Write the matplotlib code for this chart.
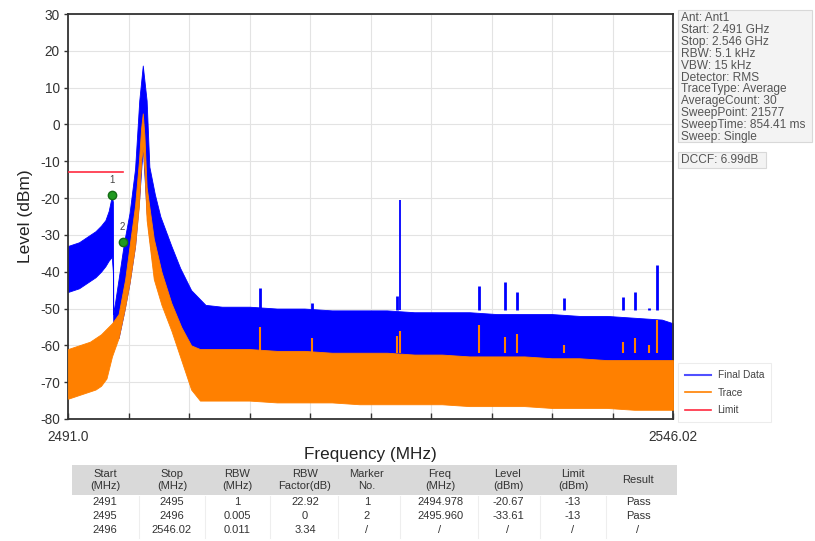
import matplotlib
matplotlib.use("Agg")
import matplotlib.pyplot as plt
from matplotlib.patches import Rectangle
from matplotlib.lines import Line2D

plt.rcParams['font.family'] = ['Liberation Sans', 'DejaVu Sans']

# ---------------- data ----------------
x_start, x_stop = 2491.0, 2546.02
y_ticks = [30, 20, 10, 0, -10, -20, -30, -40, -50, -60, -70, -80]

blue_freq = [2491.0, 2491.5, 2492.0, 2492.5, 2493.0, 2493.5, 2494.0, 2494.4, 2494.7, 2494.98,
             2495.08, 2495.12, 2495.6, 2496.1, 2496.6, 2497.1, 2497.48, 2497.8, 2498.15, 2498.4,
             2498.9, 2499.4, 2500.4, 2501.2, 2502.2, 2503.5, 2505.0, 2507.5, 2510.0, 2512.5,
             2515.0, 2517.5, 2520.0, 2522.5, 2525.0, 2527.5, 2530.0, 2532.5, 2535.0, 2537.5,
             2540.0, 2542.5, 2545.0, 2546.02]
blue_upper = [-33, -32.5, -32, -31, -30, -29, -27.5, -26, -23.5, -19.5,
              -21, -51.5, -42, -32, -24, -12, 6.5, 16, 6.5, -11.5,
              -19, -25, -33, -39, -45, -49, -49.5, -49.5, -50, -50,
              -50.5, -50.5, -50.5, -51, -51, -51, -51.5, -51.5, -51.5, -52,
              -52, -52.5, -53, -54]
blue_lower = [-45.5, -45, -44.5, -43.5, -42.5, -41.5, -40, -38.5, -37, -36,
              -40, -56, -58, -51, -43, -33, -20, -6, -24, -31,
              -42, -47, -55, -60, -63, -64, -64, -64, -64.5, -64.5,
              -65, -65, -65, -65.5, -65.5, -66, -66, -66, -66.5, -66.5,
              -67, -67, -67, -67]

orange_freq = [2491.0, 2491.5, 2492.0, 2492.5, 2493.0, 2493.5, 2494.0, 2494.5, 2495.0, 2495.6,
               2496.2, 2496.6, 2497.1, 2497.45, 2497.65, 2497.8, 2497.95, 2498.15, 2498.8, 2499.5,
               2500.4, 2501.3, 2502.2, 2503.0, 2505.0, 2507.5, 2510.0, 2512.5, 2515.0, 2517.5,
               2520.0, 2522.5, 2525.0, 2527.5, 2530.0, 2532.5, 2535.0, 2537.5, 2540.0, 2542.5,
               2545.0, 2546.02]
orange_upper = [-61, -60.5, -60, -59.5, -59, -58, -57, -55.5, -54, -51.5,
                -42, -33, -22, -10, -1, 3, -3, -17, -31, -40,
                -48.5, -55, -60, -61, -61, -61, -61.5, -61.5, -62, -62,
                -62, -62.5, -62.5, -63, -63, -63, -63.5, -63.5, -64, -64,
                -64, -64]
orange_lower = [-74.5, -74, -73.5, -73, -72.5, -72, -71, -69, -63, -58,
                -49.5, -43, -33, -22, -10, -6, -12, -26, -42, -49,
                -56, -64, -72, -75, -75, -75, -75.5, -75.5, -75.5, -76,
                -76, -76, -76, -76.5, -76.5, -76.5, -77, -77, -77, -77.5,
                -77.5, -77.5]

spike_freq = [2508.45, 2513.15, 2520.9, 2521.2, 2528.4, 2530.7, 2531.85, 2536.1, 2541.5, 2542.6, 2543.8, 2544.6]
spike_blue = [-44.5, -48.5, -46.5, -20.5, -44, -42.7, -45.4, -47.2, -46.8, -45.4, -49.9, -38.2]
spike_orange = [-55, -58, -57.5, -56, -54.5, -57.6, -57, -60, -59, -58, -60, -53]

limit_freq = [2491.0, 2496.0]
limit_level = [-13, -13]

marker_freq = [2494.978, 2495.960]
marker_level = [-19.2, -31.8]
marker_names = ["1", "2"]

info_lines = ["Ant: Ant1", "Start: 2.491 GHz", "Stop: 2.546 GHz", "RBW: 5.1 kHz", "VBW: 15 kHz",
              "Detector: RMS", "TraceType: Average", "AverageCount: 30", "SweepPoint: 21577",
              "SweepTime: 854.41 ms", "Sweep: Single"]
dccf_text = "DCCF: 6.99dB"

table_header = ["Start\n(MHz)", "Stop\n(MHz)", "RBW\n(MHz)", "RBW\nFactor(dB)", "Marker\nNo.",
                "Freq\n(MHz)", "Level\n(dBm)", "Limit\n(dBm)", "Result"]
table_rows = [["2491", "2495", "1", "22.92", "1", "2494.978", "-20.67", "-13", "Pass"],
              ["2495", "2496", "0.005", "0", "2", "2495.960", "-33.61", "-13", "Pass"],
              ["2496", "2546.02", "0.011", "3.34", "/", "/", "/", "/", "/"]]

# ---------------- figure ----------------
W, H = 815, 541
fig = plt.figure(figsize=(W / 100, H / 100), dpi=100)
fig.patch.set_facecolor('white')

def fx(px):
    return px / W

def fy(py):
    return 1 - py / H

ax = fig.add_axes([fx(68), fy(419), fx(605), 405 / H])
ax.set_xlim(x_start, x_stop)
ax.set_ylim(-80, 30)

BLUE = '#0000ff'
ORANGE = '#ff8000'

ax.fill_between(blue_freq, blue_lower, blue_upper, color=BLUE, lw=0.6, zorder=2)
spike_lw = [1.3 if b > -30 else 2.0 for b in spike_blue]
ax.vlines(spike_freq, [-50.5] * len(spike_freq), spike_blue, color=BLUE, lw=spike_lw, zorder=2)
ax.fill_between(orange_freq, orange_lower, orange_upper, color=ORANGE, lw=0.6, zorder=3)
ax.vlines(spike_freq, [-62] * len(spike_freq), spike_orange, color=ORANGE, lw=1.5, zorder=3)

ax.plot(limit_freq, limit_level, color='#ff2a40', lw=1.2, zorder=4)
ax.plot(marker_freq, marker_level, 'o', color='#1f9a1f', mec='#156c15', ms=6, zorder=5, ls='none')
for f, l, n in zip(marker_freq, marker_level, marker_names):
    ax.annotate(n, (f, l), xytext=(0, 7), textcoords='offset points', ha='center', va='bottom',
                fontsize=7, color='#444444', zorder=6)

# grid and ticks
xt = [x_start + i * (x_stop - x_start) / 10 for i in range(11)]
ax.set_xticks(xt)
ax.set_xticklabels(["2491.0"] + [""] * 9 + ["2546.02"], fontsize=9.8, color='#333333')
ax.set_yticks(y_ticks)
ax.set_yticklabels([str(v) for v in y_ticks], fontsize=9.8, color='#333333')
ax.tick_params(axis='x', direction='in', length=4, width=1, pad=8, color='#333333')
ax.tick_params(axis='y', direction='out', length=3, width=1, pad=3, color='#333333')
ax.grid(True, color='#e3e3e3', lw=0.8, zorder=0)
ax.set_axisbelow(True)
for s in ax.spines.values():
    s.set_color('#333333')
    s.set_linewidth(1.3)

ax.set_ylabel("Level (dBm)", fontsize=12.5, color='#222222', labelpad=5)
fig.text(fx(370.5), fy(455), "Frequency (MHz)", fontsize=12.3, color='#222222', ha='center', va='center')

# legend
handles = [Line2D([], [], color='#5050ff', lw=1.5), Line2D([], [], color=ORANGE, lw=1.2),
           Line2D([], [], color='#ff2a40', lw=1.2)]
leg = fig.legend(handles, ["Final Data", "Trace", "Limit"], loc='upper left',
                 bbox_to_anchor=(fx(678), fy(363)), fontsize=7.3, frameon=True,
                 handlelength=2.6, labelspacing=0.75, borderpad=0.7, handletextpad=0.6,
                 borderaxespad=0)
leg.get_frame().set_edgecolor('#e8e8e8')
leg.get_frame().set_linewidth(0.8)
leg.get_frame().set_boxstyle('square', pad=0)
for t in leg.get_texts():
    t.set_color('#444444')

# info box
fig.patches.append(Rectangle((fx(678), fy(142)), fx(134), 132 / H, transform=fig.transFigure,
                             facecolor='#f3f3f3', edgecolor='#d8d8d8', lw=0.8))
fig.text(fx(681), fy(12), "\n".join(info_lines), fontsize=8.6, color='#555555', ha='left', va='top',
         linespacing=0.99)
fig.patches.append(Rectangle((fx(678), fy(168)), fx(88), 16 / H, transform=fig.transFigure,
                             facecolor='#f3f3f3', edgecolor='#d8d8d8', lw=0.8))
fig.text(fx(681), fy(160), dccf_text, fontsize=8.6, color='#555555', ha='left', va='center')

# table
col_centers = [105, 172, 237, 305, 367, 440, 508, 573, 638]
col_edges = [72, 139, 205, 270, 338, 400, 478, 540, 606, 677]
fig.patches.append(Rectangle((fx(72), fy(495)), fx(605), 30 / H, transform=fig.transFigure,
                             facecolor='#d9d9d9', edgecolor='none'))
for c, h in zip(col_centers, table_header):
    fig.text(fx(c), fy(480), h, fontsize=8, color='#333333', ha='center', va='center', linespacing=1.15)
row_y = [502, 516, 530]
for ry, row in zip(row_y, table_rows):
    for c, v in zip(col_centers, row):
        fig.text(fx(c), fy(ry), v, fontsize=8, color='#333333', ha='center', va='center')
for e in col_edges[1:-1]:
    fig.lines.append(Line2D([fx(e), fx(e)], [fy(496), fy(538)], transform=fig.transFigure,
                            color='#eeeeee', lw=0.8))

fig.savefig("out.png", dpi=100)
